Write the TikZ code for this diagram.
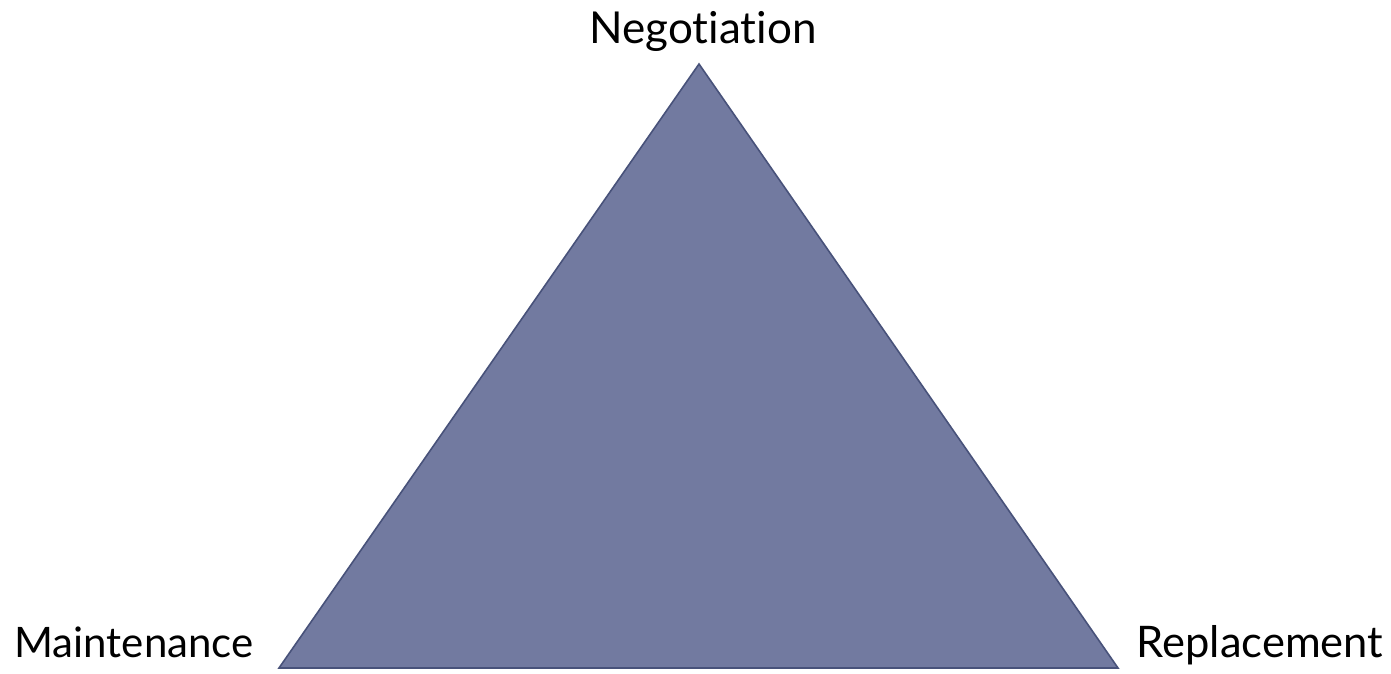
\documentclass[tikz,border=0pt]{standalone}
\usepackage{fontspec}
\setmainfont{Lato}[Ligatures={NoCommon}]
\usepackage{xcolor}
\usepackage{tikz}
\usetikzlibrary{positioning, calc}
\definecolor{trifill}{RGB}{114, 122, 160}
\definecolor{triborder}{RGB}{72, 82, 122}
\definecolor{labeltext}{RGB}{0, 0, 0}
\tikzset{
  cornerlabel/.style={
    anchor=base, inner sep=0pt, text=labeltext,
    font=\fontsize{42}{48}\selectfont
  },
  triangleshape/.style={
    fill=trifill, draw=triborder, line width=1.6pt, line join=miter
  }
}
\begin{document}
\begin{tikzpicture}[x=1pt, y=-1pt]
  \useasboundingbox (0,0) rectangle (1391,673);

  % Corners of the triangle
  \coordinate (apex) at (699,64);
  \coordinate (left_corner) at (279,668);
  \coordinate (right_corner) at (1118,668);

  % Triangle
  \draw[triangleshape] (apex) -- (left_corner) -- (right_corner) -- cycle;

  % Labels
  \node[cornerlabel, font=\fontsize{44}{50}\selectfont] (negotiation) at (703,43) {Negotiation};
  \node[cornerlabel] (maintenance) at (134,657) {Maintenance};
  \node[cornerlabel, font=\fontsize{43.5}{50}\selectfont] (replacement) at (1260,657) {Replacement};

\end{tikzpicture}
\end{document}
